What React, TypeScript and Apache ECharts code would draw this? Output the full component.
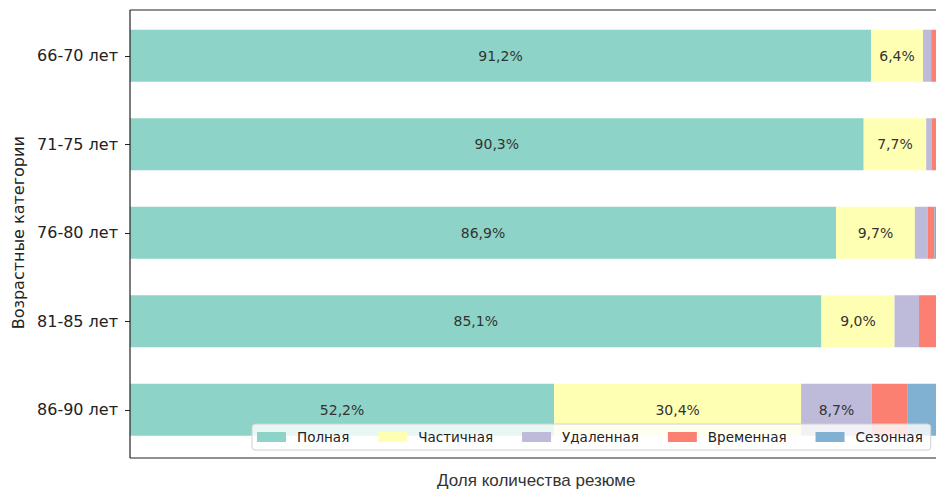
import React, { useEffect, useRef } from "react";
import * as echarts from "echarts";

const categories = ["66-70 лет", "71-75 лет", "76-80 лет", "81-85 лет", "86-90 лет"];
const seriesNames = ["Полная", "Частичная", "Удаленная", "Временная", "Сезонная"];
const polnaya = [91.2, 90.3, 86.9, 85.1, 52.2];
const chastichnaya = [6.4, 7.7, 9.7, 9.0, 30.4];
const udalennaya = [1.0, 0.7, 1.6, 3.0, 8.7];
const vremennaya = [1.3, 1.3, 0.8, 2.9, 4.35];
const sezonnaya = [0.1, 0.0, 1.0, 0.0, 4.35];
const colors = ["#8dd3c7", "#ffffb3", "#bebada", "#fb8072", "#80b1d3"];
const yAxisTitle = "Возрастные категории";
const xAxisTitle = "Доля количества резюме";

export default function App() {
  const ref = useRef<HTMLDivElement>(null);
  useEffect(() => {
    document.body.style.margin = "0";
    if (!ref.current) return;
    const chart = echarts.init(ref.current, undefined, { renderer: "svg" });
    const allData = [polnaya, chastichnaya, udalennaya, vremennaya, sezonnaya];
    const series = seriesNames.map((name, i) => ({
      name,
      type: "bar",
      stack: "total",
      barWidth: 52,
      data: allData[i],
      itemStyle: { color: colors[i] },
      label: {
        show: true,
        position: "inside",
        fontFamily: "DejaVu Sans",
        fontSize: 14,
        color: "#333",
        formatter: (p: any) =>
          p.value >= 5 ? p.value.toFixed(1).replace(".", ",") + "%" : "",
      },
    }));
    const spine = { stroke: "#222", lineWidth: 1.2 };
    chart.setOption({
      animation: false,
      color: colors,
      grid: {
        left: 130,
        top: 11.5,
        width: 812.5,
        height: 442.5,
        outerBoundsMode: "none",
        containLabel: false,
        show: false,
      },
      graphic: [
        { type: "line", z: 10, shape: { x1: 130, y1: 10, x2: 940, y2: 10 }, style: spine },
        { type: "line", z: 10, shape: { x1: 130, y1: 458, x2: 940, y2: 458 }, style: spine },
        { type: "line", z: 10, shape: { x1: 130, y1: 10, x2: 130, y2: 458 }, style: spine },
      ],
      legend: {
        left: 252,
        top: 424,
        orient: "horizontal",
        itemWidth: 29,
        itemHeight: 10,
        itemGap: 29,
        padding: [6, 8, 6, 5],
        backgroundColor: "rgba(255,255,255,0.8)",
        borderColor: "#d0d0d0",
        borderWidth: 1,
        borderRadius: 3,
        icon: "rect",
        textStyle: { fontFamily: "DejaVu Sans", fontSize: 13.5, color: "#222", padding: [0, 0, 0, 6] },
        data: seriesNames,
      },
      xAxis: {
        type: "value",
        min: 0,
        max: 100,
        axisLabel: { show: false },
        axisTick: { show: false },
        axisLine: { show: false },
        splitLine: { show: false },
        name: xAxisTitle,
        nameLocation: "middle",
        nameGap: 18,
        nameTextStyle: { fontFamily: "Liberation Sans", fontSize: 17, color: "#333" },
      },
      yAxis: {
        type: "category",
        inverse: true,
        data: categories,
        axisLine: { show: false },
        axisTick: { show: true, length: 5, alignWithLabel: true, lineStyle: { color: "#222" } },
        axisLabel: { fontFamily: "DejaVu Sans", fontSize: 16, color: "#222", margin: 12 },
        name: yAxisTitle,
        nameLocation: "middle",
        nameRotate: 90,
        nameGap: 104,
        nameTextStyle: { fontFamily: "DejaVu Sans", fontSize: 16, color: "#222" },
      },
      series,
    });
    return () => chart.dispose();
  }, []);
  return <div ref={ref} style={{ width: 936, height: 490 }} />;
}
